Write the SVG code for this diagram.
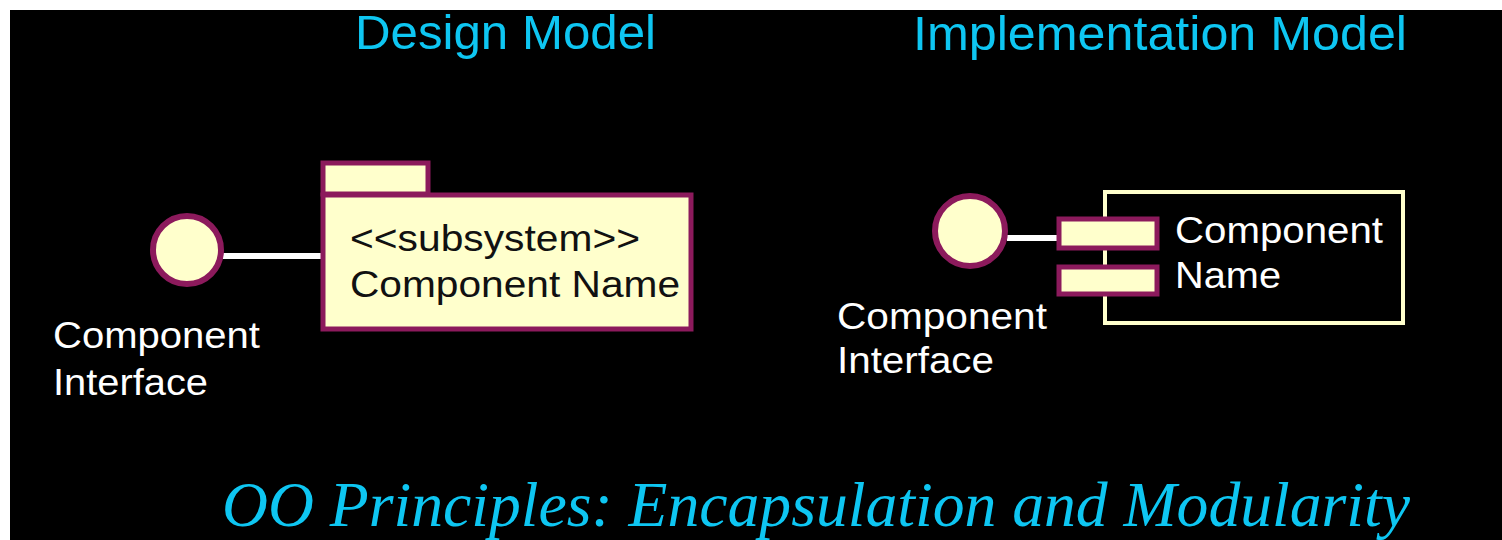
<svg xmlns="http://www.w3.org/2000/svg" width="1502" height="540" viewBox="0 0 1502 540">
  <style>
    .heading { font-family: "Liberation Sans", Arial, sans-serif; font-size: 48px; fill: #0ec6f2; }
    .label { font-family: "Liberation Sans", Arial, sans-serif; font-size: 36px; fill: #ffffff; }
    .inner { font-family: "Liberation Sans", Arial, sans-serif; font-size: 36px; fill: #111111; }
    .title { font-family: "Liberation Serif", "Times New Roman", serif; font-style: italic; font-size: 63px; fill: #0ec6f2; }
    .iface { fill: #ffffcc; stroke: #8c1a5c; stroke-width: 6; }
    .part { fill: #ffffcc; stroke: #8c1a5c; stroke-width: 5; }
    .wire { stroke: #ffffff; stroke-width: 6; fill: none; }
  </style>

  <!-- page and slide background -->
  <rect x="0" y="0" width="1502" height="540" fill="#ffffff"/>
  <rect x="10" y="10" width="1492" height="530" fill="#000000"/>

  <!-- headings -->
  <text class="heading" x="355" y="49" textLength="301" lengthAdjust="spacingAndGlyphs">Design Model</text>
  <text class="heading" x="913" y="50" textLength="494" lengthAdjust="spacingAndGlyphs">Implementation Model</text>

  <!-- connectors -->
  <g id="connectors">
    <line class="wire" x1="222" y1="256" x2="321" y2="256"/>
    <line class="wire" x1="1007" y1="238" x2="1058" y2="238"/>
  </g>

  <!-- design model: interface lollipop -->
  <g id="design-interface">
    <circle class="iface" cx="187" cy="250" r="34"/>
    <text class="label" x="53" y="348" textLength="207" lengthAdjust="spacingAndGlyphs">Component</text>
    <text class="label" x="53" y="395" textLength="155" lengthAdjust="spacingAndGlyphs">Interface</text>
  </g>

  <!-- design model: subsystem package -->
  <g id="design-subsystem">
    <rect class="part" x="323" y="163" width="105" height="31"/>
    <rect class="part" x="323" y="195" width="368" height="134"/>
    <text class="inner" x="350" y="251" textLength="290" lengthAdjust="spacingAndGlyphs">&lt;&lt;subsystem&gt;&gt;</text>
    <text class="inner" x="350" y="297" textLength="330" lengthAdjust="spacingAndGlyphs">Component Name</text>
  </g>

  <!-- implementation model: interface lollipop -->
  <g id="impl-interface">
    <circle class="iface" cx="970" cy="231" r="35"/>
    <text class="label" x="837" y="329" textLength="210" lengthAdjust="spacingAndGlyphs">Component</text>
    <text class="label" x="837" y="373" textLength="157" lengthAdjust="spacingAndGlyphs">Interface</text>
  </g>

  <!-- implementation model: component box with its two tabs -->
  <g id="impl-component">
    <rect x="1105" y="192" width="298" height="131" fill="none" stroke="#ffffcc" stroke-width="4"/>
    <rect class="part" x="1059" y="219" width="98" height="29"/>
    <rect class="part" x="1059" y="267" width="98" height="27"/>
    <text class="label" x="1175" y="243" textLength="208" lengthAdjust="spacingAndGlyphs">Component</text>
    <text class="label" x="1175" y="288" textLength="106" lengthAdjust="spacingAndGlyphs">Name</text>
  </g>

  <!-- slide title -->
  <text class="title" x="222" y="526" textLength="1188" lengthAdjust="spacingAndGlyphs">OO Principles: Encapsulation and Modularity</text>
</svg>
